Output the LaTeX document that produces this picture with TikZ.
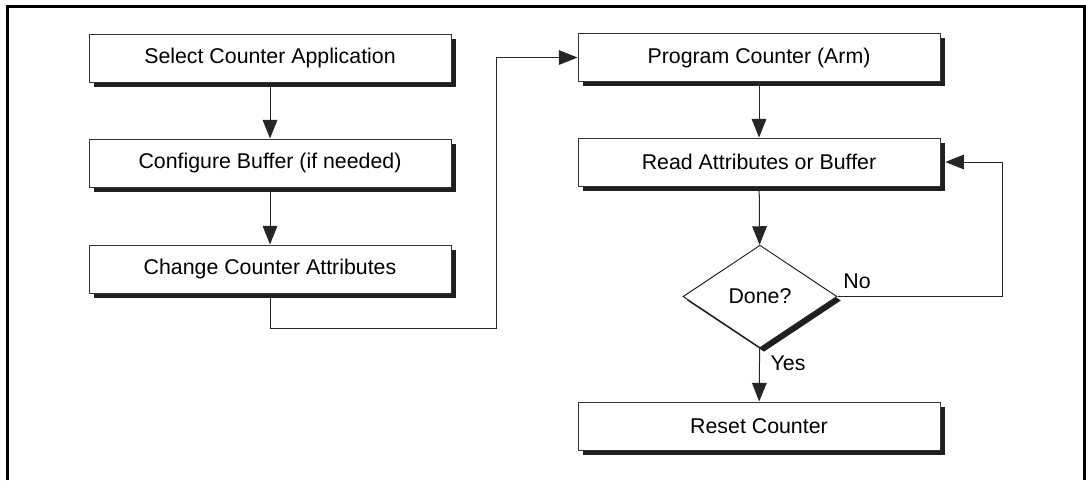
\documentclass[tikz,border=0pt]{standalone}
\usepackage{fontspec}
\setmainfont{Liberation Sans}
\usetikzlibrary{shapes.geometric,shadows,arrows.meta}

\tikzset{
  stepbox/.style={draw=black!80, line width=0.75pt, fill=white, minimum width=271.5pt, minimum height=36pt, inner sep=0pt,
    drop shadow={shadow xshift=3.6pt, shadow yshift=-3.6pt, fill=black!88, opacity=1},
    font=\fontsize{16}{18}\selectfont},
  donebox/.style={shape=diamond, draw=black!85, line width=0.75pt, fill=white, minimum width=115.5pt, minimum height=77pt, inner sep=0pt,
    drop shadow={shadow xshift=3pt, shadow yshift=-3pt, fill=black!88, opacity=1},
    font=\fontsize{16}{18}\selectfont},
  lbl/.style={inner sep=0pt, font=\fontsize{16}{18}\selectfont},
  arr/.style={draw=black!85, line width=0.75pt, -{Triangle[length=14pt,width=11pt]}}
}

\begin{document}
\begin{tikzpicture}[x=0.75pt,y=0.75pt,yscale=-1,xscale=1]
  \path (0,0) rectangle (1086,480); %page is 1086 x 480

  % outer frame, open at the bottom
  \draw [line width=2.25pt] (7.5,480) -- (7.5,6.5) -- (1084.5,6.5) -- (1084.5,480);

  % left column
  \node [stepbox] (select) at (270,58) {Select Counter Application};
  \node [stepbox] (config) at (270,163) {Configure Buffer (if needed)};
  \node [stepbox] (change) at (270,269) {Change Counter Attributes};

  % right column
  \node [stepbox] (prog) at (759,57.5) {Program Counter (Arm)};
  \node [stepbox] (read) at (759,162) {Read Attributes or Buffer};
  \node [donebox] (done) at (760,296.5) {Done?};
  \node [stepbox] (reset) at (759,426) {Reset Counter};

  \node [lbl] (no) at (857,281) {No};
  \node [lbl] (yes) at (788,363) {Yes};

  \coordinate (bendA) at (496,328);
  \coordinate (bendB) at (1002,296.5);

  \draw [arr] (select) -- (config);
  \draw [arr] (config) -- (change);
  \draw [arr] (change.south) |- (bendA) |- (prog.west);
  \draw [arr] (prog) -- (read);
  \draw [arr] (read) -- (done);
  \draw [arr] (done) -- (reset);
  \draw [arr] (done.east) -- (bendB) |- ([xshift=3.6pt]read.east);
\end{tikzpicture}
\end{document}
